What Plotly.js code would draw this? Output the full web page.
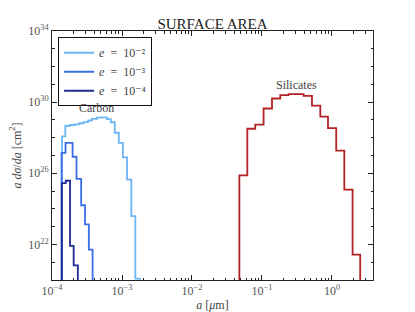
<!DOCTYPE html>
<html>
<head>
<meta charset="utf-8">
<script src="https://cdn.plot.ly/plotly-3.0.1.min.js"></script>
<style>html,body{margin:0;padding:0;background:#fff;}#chart{width:415px;height:312px;}</style>
</head>
<body>
<div id="chart"></div>
<script>
// Grain-size bin edges (micron) and values a dσ/da (cm^2)
var carbonE2Edges = [1.39e-4, 1.55e-4, 1.82e-4, 2.12e-4, 2.45e-4, 2.82e-4, 3.27e-4, 3.72e-4, 4.39e-4, 5.14e-4, 6.07e-4, 6.92e-4, 7.89e-4, 9.0e-4, 1.03e-3, 1.18e-3, 1.36e-3, 1.55e-3, 1.79e-3];
var carbonE2Values = [1.2e28, 4.7e28, 5.2e28, 5.6e28, 6.5e28, 7.6e28, 9.3e28, 1.15e29, 1.35e29, 1.4e29, 1.1e29, 7.4e28, 1.9e28, 5.1e27, 7.9e26, 4.4e25, 3.9e23, 1.2e20];

var carbonE3Edges = [1.37e-4, 1.56e-4, 1.97e-4, 2.24e-4, 2.61e-4, 2.96e-4, 3.36e-4, 3.8e-4];
var carbonE3Values = [1.4e27, 5.1e27, 8.5e26, 4.9e25, 1.6e24, 1.35e23, 5.1e21];

var carbonE4Edges = [1.38e-4, 1.57e-4, 1.81e-4, 2.04e-4, 2.34e-4];
var carbonE4Values = [2.8e25, 3.8e25, 8.4e21, 6.6e20];

var silEdges = [0.0475, 0.0617, 0.0801, 0.1054, 0.139, 0.1825, 0.240, 0.309, 0.393, 0.518, 0.681, 0.877, 1.15, 1.50, 1.97, 2.53];
var silValues = [7.6e25, 3.2e28, 5.5e28, 4.4e29, 1.6e30, 2.5e30, 2.8e30, 2.8e30, 2.25e30, 6.4e29, 1.55e29, 3.5e28, 1.9e27, 1.2e25, 2.7e21];

var floorVal = 1e10;

var xTickVals = [1e-4, 1e-3, 1e-2, 1e-1, 1];
var xTickText = ['10<sup>−4</sup>', '10<sup>−3</sup>', '10<sup>−2</sup>', '10<sup>−1</sup>', '10<sup>0</sup>'];
var yTickVals = [1e22, 1e26, 1e30, 1e34];
var yTickText = ['10<sup>22</sup>', '10<sup>26</sup>', '10<sup>30</sup>', '10<sup>34</sup>'];

var seriesNames = ['<i>e</i>&nbsp;&nbsp;=&nbsp;&nbsp;10⁻²', '<i>e</i>&nbsp;&nbsp;=&nbsp;&nbsp;10⁻³', '<i>e</i>&nbsp;&nbsp;=&nbsp;&nbsp;10⁻⁴'];
var seriesColors = ['#6cb6f6', '#3a6ee6', '#1e2a90', '#b52226'];

var labelCarbon = {x: 4.34e-4, y: 4.6e29, text: 'Carbon'};
var labelSil = {x: 0.316, y: 9.4e30, text: 'Silicates'};

function stepXY(edges, vals) {
  var x = [edges[0]], y = [floorVal];
  for (var i = 0; i < vals.length; i++) { x.push(edges[i]); y.push(vals[i]); }
  x.push(edges[edges.length - 1]); y.push(vals[vals.length - 1]);
  x.push(edges[edges.length - 1]); y.push(floorVal);
  return {x: x, y: y};
}

function mk(edges, vals, name, color, show) {
  var s = stepXY(edges, vals);
  return {x: s.x, y: s.y, type: 'scatter', mode: 'lines', line: {shape: 'hv', color: color, width: 1.8},
    name: name, showlegend: show, hoverinfo: 'skip'};
}

var traces = [
  mk(carbonE2Edges, carbonE2Values, seriesNames[0], seriesColors[0], true),
  mk(carbonE3Edges, carbonE3Values, seriesNames[1], seriesColors[1], true),
  mk(carbonE4Edges, carbonE4Values, seriesNames[2], seriesColors[2], true),
  mk(silEdges, silValues, 'Silicates', seriesColors[3], false)
];

var serif = 'Liberation Serif, DejaVu Serif, serif';
var layout = {
  width: 415, height: 312,
  margin: {l: 52, r: 42, t: 31, b: 32},
  paper_bgcolor: '#fff', plot_bgcolor: '#fff',
  font: {family: serif, color: '#444', size: 12},
  title: {text: 'SURFACE AREA', font: {family: serif, size: 15, color: '#222'}, x: 0.5, xref: 'paper', xanchor: 'center',
    y: 1, yref: 'paper', yanchor: 'bottom', pad: {b: 2}},
  xaxis: {
    type: 'log', range: [-4, 0.586],
    showgrid: false, zeroline: false, showline: true, linecolor: '#222', linewidth: 1, mirror: 'allticks',
    ticks: 'inside', ticklen: 5, tickcolor: '#222', tickwidth: 1,
    tickmode: 'array', tickvals: xTickVals, ticktext: xTickText, tickfont: {family: serif, size: 12, color: '#555'},
    minor: {dtick: 'D1', ticks: 'inside', ticklen: 2.5, tickcolor: '#222', showgrid: false},
    title: {text: '<i>a</i> [<i>μ</i>m]', font: {family: serif, size: 12, color: '#444'}, standoff: 4}
  },
  yaxis: {
    type: 'log', range: [20, 34],
    showgrid: false, zeroline: false, showline: true, linecolor: '#222', linewidth: 1, mirror: 'allticks',
    ticks: 'inside', ticklen: 5, tickcolor: '#222', tickwidth: 1,
    tickmode: 'array', tickvals: yTickVals, ticktext: yTickText, tickfont: {family: serif, size: 12, color: '#555'},
    minor: {dtick: 1, ticks: 'inside', ticklen: 2.5, tickcolor: '#222', showgrid: false},
    title: {text: '<i>a</i> <i>dσ</i>/<i>da</i> [cm<sup>2</sup>]', font: {family: serif, size: 12, color: '#444'}, standoff: 4}
  },
  showlegend: true,
  legend: {x: 0.019, y: 0.975, xanchor: 'left', yanchor: 'top', bgcolor: '#fff', bordercolor: '#111', borderwidth: 1,
    font: {family: serif, size: 12, color: '#444'}, itemwidth: 30, tracegroupgap: 0, traceorder: 'normal'},
  annotations: [
    {x: Math.log10(labelCarbon.x), y: Math.log10(labelCarbon.y), xref: 'x', yref: 'y', text: labelCarbon.text, showarrow: false, font: {family: serif, size: 12, color: '#444'}},
    {x: Math.log10(labelSil.x), y: Math.log10(labelSil.y), xref: 'x', yref: 'y', text: labelSil.text, showarrow: false, font: {family: serif, size: 12, color: '#444'}}
  ]
};

Plotly.newPlot('chart', traces, layout, {staticPlot: true, displayModeBar: false});
</script>
</body>
</html>
